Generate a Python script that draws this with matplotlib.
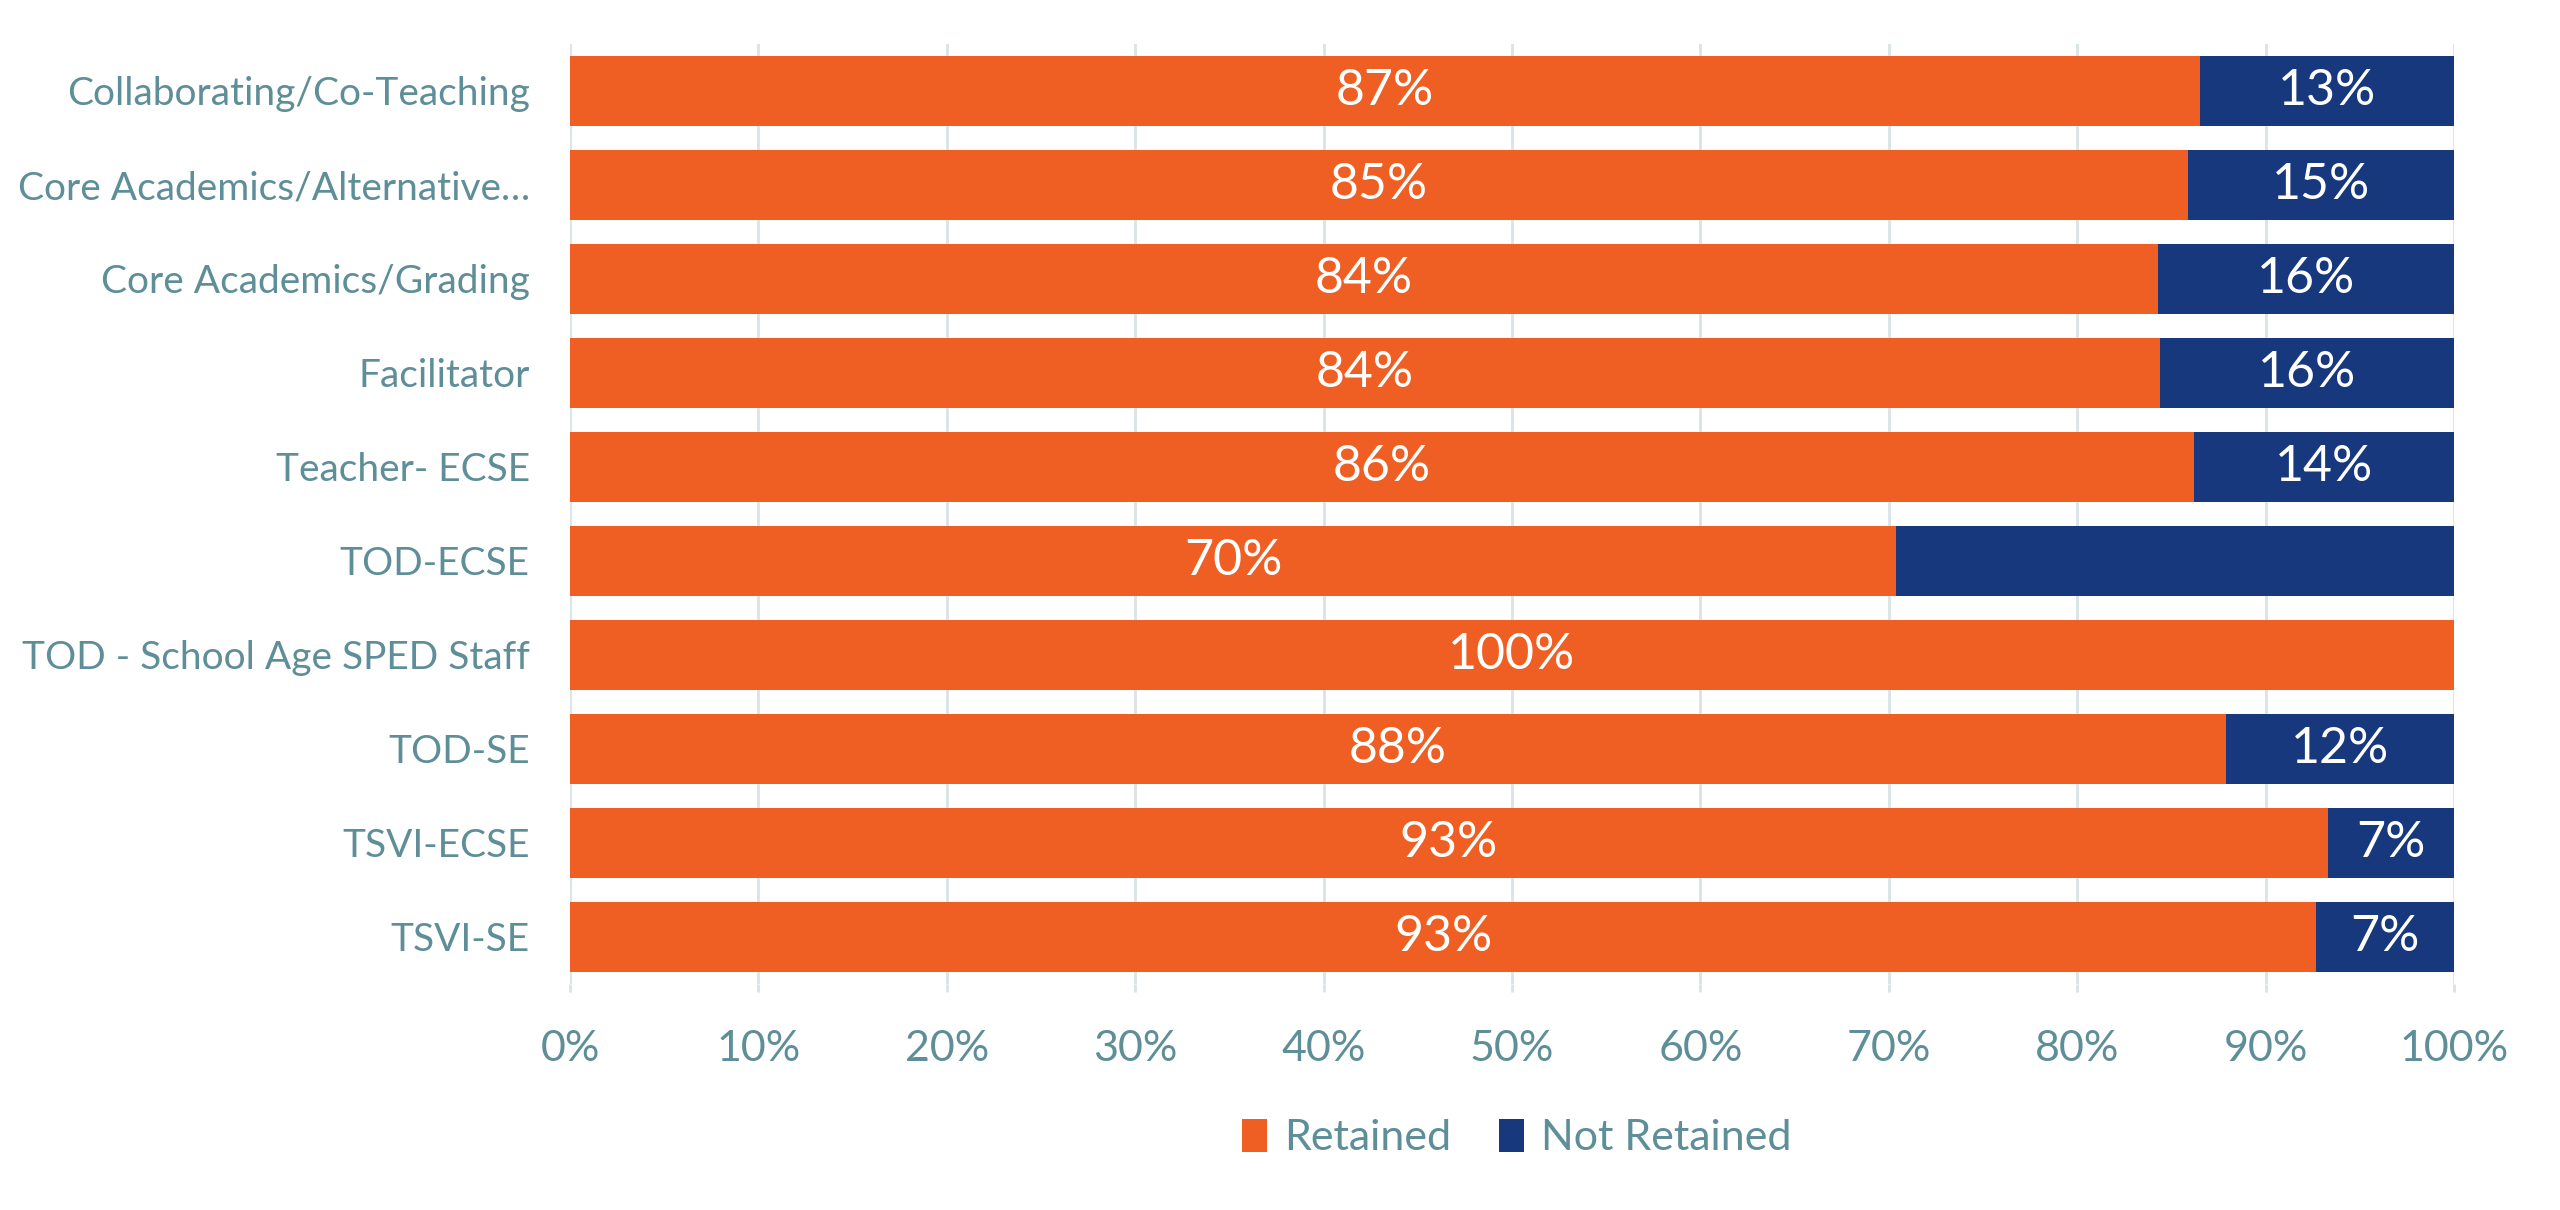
import matplotlib.pyplot as plt
import numpy as np
from matplotlib.ticker import PercentFormatter

categories = ['Collaborating/Co-Teaching', 'Core Academics/Alternative\u2026',
              'Core Academics/Grading', 'Facilitator', 'Teacher- ECSE',
              'TOD-ECSE', 'TOD - School Age SPED Staff', 'TOD-SE',
              'TSVI-ECSE', 'TSVI-SE']
retained = [86.5, 85.9, 84.3, 84.4, 86.2, 70.4, 100.0, 87.9, 93.3, 92.7]
not_retained = [100 - r for r in retained]
retained_labels = ['87%', '85%', '84%', '84%', '86%', '70%', '100%', '88%', '93%', '93%']
not_retained_labels = ['13%', '15%', '16%', '16%', '14%', '', '', '12%', '7%', '7%']

orange = '#EF5F23'
navy = '#17387C'
text_col = '#5E8E98'
grid_col = '#D8E4E7'

plt.rcParams['font.family'] = ['Lato', 'DejaVu Sans']

fig = plt.figure(figsize=(25.6, 12.1), dpi=100)
ax = fig.add_axes([570 / 2560, 1 - 984 / 1210, 1884 / 2560, 940 / 1210])

y = np.arange(len(categories))
h = 0.75
b1 = ax.barh(y, retained, h, color=orange, label='Retained', zorder=3)
b2 = ax.barh(y, not_retained, h, left=retained, color=navy, label='Not Retained', zorder=3)

for i in range(len(categories)):
    ax.text(retained[i] / 2, y[i], retained_labels[i], ha='center', va='center',
            color='white', fontsize=36, zorder=4)
    if not_retained_labels[i]:
        ax.text(retained[i] + not_retained[i] / 2, y[i], not_retained_labels[i],
                ha='center', va='center', color='white', fontsize=36, zorder=4)

ax.set_xlim(0, 100)
ax.set_ylim(len(categories) - 0.5, -0.5)
ax.set_xticks(np.arange(0, 101, 10))
ax.xaxis.set_major_formatter(PercentFormatter(decimals=0))
ax.set_yticks(y)
ax.set_yticklabels(categories)

ax.grid(axis='x', color=grid_col, linewidth=2, zorder=0)
for s in ax.spines.values():
    s.set_visible(False)
ax.tick_params(axis='y', length=0, pad=29, labelsize=28, labelcolor=text_col)
ax.tick_params(axis='x', length=6, width=2, color=grid_col, pad=27,
               labelsize=31, labelcolor=text_col)

fig.legend(handles=[b1, b2], loc='center', bbox_to_anchor=(1517 / 2560, 1 - 1138 / 1210),
           ncol=2, frameon=False, fontsize=31, labelcolor=text_col,
           handlelength=0.58, handleheight=0.8, handletextpad=0.4, columnspacing=1.1)

plt.savefig('out.png', dpi=100)
